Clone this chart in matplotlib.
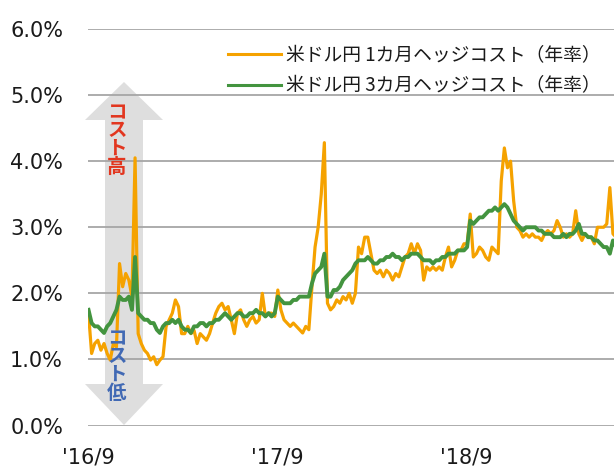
import matplotlib
matplotlib.use("Agg")
import matplotlib.pyplot as plt
from matplotlib.patches import Polygon
import pandas as pd

# ---- data (values in %) ----
start_date = "2016-09-01"
step_days = 6
hedge_1m = [1.70,1.09,1.24,1.29,1.14,1.24,1.09,0.99,1.24,1.19,2.45,2.10,2.30,2.20,1.95,4.05,1.39,1.24,1.14,1.09,
            0.99,1.04,0.92,0.99,1.04,1.50,1.60,1.70,1.90,1.80,1.39,1.39,1.50,1.39,1.44,1.24,1.39,1.34,1.29,1.39,
            1.55,1.70,1.80,1.85,1.75,1.80,1.60,1.39,1.70,1.75,
            1.6,1.5,1.6,1.65,1.55,1.6,2.0,1.65,1.7,1.7,
            1.65,2.05,1.75,1.6,1.55,1.5,1.55,1.5,1.45,1.4,
            1.5,1.45,2.1,2.7,3.0,3.5,4.28,1.85,1.75,1.8,
            1.9,1.85,1.95,1.9,2.0,1.85,2.0,2.7,2.6,2.85,
            2.85,2.6,2.35,2.3,2.35,2.25,2.35,2.3,2.2,2.3,
            2.25,2.4,2.55,2.6,2.75,2.6,2.75,2.65,2.2,2.4,
            2.35,2.4,2.35,2.4,2.35,2.55,2.7,2.4,2.5,2.65,
            2.65,2.75,2.75,3.2,2.55,2.6,2.7,2.65,2.55,2.5,
            2.7,2.65,2.6,3.7,4.2,3.9,4.0,3.4,3.0,2.95,
            2.85,2.9,2.85,2.9,2.85,2.85,2.8,2.9,2.95,2.9,
            2.95,3.1,3.0,2.85,2.9,2.85,2.9,3.25,2.9,2.8,
            2.9,2.85,2.85,2.75,3.0,3.0,3.0,3.05,3.6,2.9,
            2.85]
hedge_3m = [1.75,1.55,1.50,1.50,1.45,1.40,1.50,1.55,1.65,1.75,1.95,1.90,1.90,1.95,1.75,2.55,1.70,1.65,1.60,1.60,
            1.55,1.55,1.45,1.40,1.50,1.55,1.55,1.60,1.55,1.60,1.50,1.45,1.45,1.40,1.50,1.50,1.55,1.55,1.50,1.55,
            1.55,1.60,1.60,1.65,1.70,1.65,1.60,1.65,1.70,1.70,
            1.65,1.65,1.7,1.7,1.75,1.7,1.7,1.65,1.7,1.65,
            1.7,1.95,1.9,1.85,1.85,1.85,1.9,1.9,1.95,1.95,
            1.95,1.95,2.15,2.3,2.35,2.4,2.6,1.95,1.95,2.05,
            2.05,2.1,2.2,2.25,2.3,2.35,2.45,2.5,2.5,2.5,
            2.55,2.5,2.45,2.45,2.5,2.5,2.55,2.55,2.6,2.55,
            2.55,2.5,2.55,2.55,2.6,2.6,2.6,2.55,2.5,2.5,
            2.5,2.45,2.5,2.5,2.55,2.55,2.6,2.6,2.6,2.65,
            2.65,2.65,2.7,3.1,3.05,3.1,3.15,3.15,3.2,3.25,
            3.25,3.3,3.25,3.3,3.35,3.3,3.2,3.1,3.05,3.0,
            2.95,3.0,3.0,3.0,3.0,2.95,2.95,2.9,2.9,2.9,
            2.85,2.85,2.85,2.9,2.85,2.9,2.9,2.95,3.05,2.9,
            2.9,2.85,2.85,2.8,2.8,2.75,2.7,2.7,2.6,2.8,
            2.7]
label_1m = "米ドル円 1カ月ヘッジコスト（年率）"
label_3m = "米ドル円 3カ月ヘッジコスト（年率）"
x_tick_dates = ["2016-09-01", "2017-09-01", "2018-09-01"]
x_tick_labels = ["'16/9", "'17/9", "'18/9"]
y_ticks = [0, 1, 2, 3, 4, 5, 6]
high_text = "コスト高"
low_text = "コスト低"

dates = pd.date_range(start_date, periods=len(hedge_1m), freq=f"{step_days}D")

W, H = 614, 467
fig = plt.figure(figsize=(W / 100, H / 100), dpi=100)
ax = fig.add_axes([88 / W, 1 - 425.5 / H, 1 - 88 / W, (425.5 - 29) / H])
ax.set_facecolor("none")

# background double arrow (figure pixel coords, y from top)
cx, tip_t, tip_b, base_t, base_b = 124, 82, 425, 120, 384
hw, sw = 39, 19
pts = [(cx, tip_t), (cx + hw, base_t), (cx + sw, base_t), (cx + sw, base_b), (cx + hw, base_b),
       (cx, tip_b), (cx - hw, base_b), (cx - sw, base_b), (cx - sw, base_t), (cx - hw, base_t)]
pts = [(px / W, 1 - py / H) for px, py in pts]
ax.add_patch(Polygon(pts, closed=True, transform=fig.transFigure, clip_on=False,
                     facecolor="#DEDEDE", edgecolor="none", zorder=0.5))

ax.plot(dates, hedge_1m, color="#F5A200", lw=2.3, label=label_1m, zorder=3)
ax.plot(dates, hedge_3m, color="#43943F", lw=2.8, label=label_3m, zorder=4)

ax.set_ylim(0, 6)
ax.set_yticks(y_ticks)
ax.set_yticklabels([f"{v:.1f}%" for v in y_ticks])
ax.set_xlim(pd.Timestamp("2016-08-31"), pd.Timestamp("2019-06-14"))
ax.set_xticks([pd.Timestamp(d) for d in x_tick_dates])
ax.set_xticklabels(x_tick_labels)
ax.grid(axis="y", color="#A6A6A6", lw=1.3, zorder=1)
ax.set_axisbelow(True)
for s in ax.spines.values():
    s.set_visible(False)
ax.tick_params(axis="both", length=0, labelsize=15, colors="#1a1a1a")
ax.tick_params(axis="y", pad=18)
ax.tick_params(axis="x", pad=16)

leg = ax.legend(loc="upper left", bbox_to_anchor=(228 / W, 1 - 45 / H), bbox_transform=fig.transFigure,
                frameon=False, prop={"family": ["Noto Sans CJK JP", "DejaVu Sans"], "size": 13.5},
                handlelength=2.8, handletextpad=0.3, borderpad=0, borderaxespad=0, labelspacing=0.5)
for t in leg.get_texts():
    t.set_color("#1a1a1a")
for h in leg.get_lines():
    h.set_linewidth(2.2)
leg.set_zorder(6)

fig.text(117 / W, 1 - 140 / H, "\n".join(high_text), color="#E2361F", fontsize=14, fontweight="bold",
         family=["Noto Sans CJK JP"], ha="center", va="center", linespacing=0.95, zorder=5)
fig.text(117 / W, 1 - 366 / H, "\n".join(low_text), color="#4169B4", fontsize=14, fontweight="bold",
         family=["Noto Sans CJK JP"], ha="center", va="center", linespacing=0.95, zorder=5)

fig.savefig("out.png", dpi=100)
